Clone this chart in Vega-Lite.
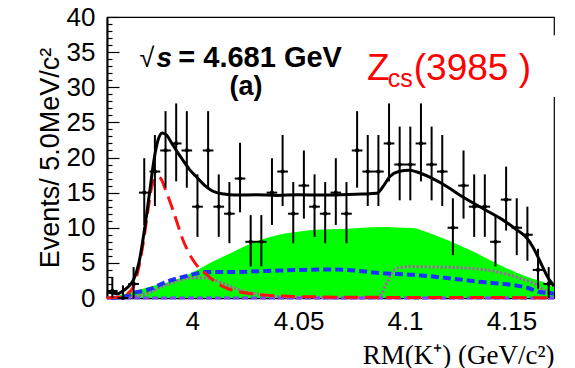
{
  "$schema": "https://vega.github.io/schema/vega-lite/v6.json",
  "width": 447,
  "height": 281,
  "autosize": {"type": "none"},
  "padding": {"left": 107, "top": 17, "right": 21, "bottom": 70},
  "background": "white",
  "config": {"view": {"stroke": "black", "strokeWidth": 1.2}, "font": "Liberation Sans"},
  "datasets": {
    "pts": [
      {"x": 3.9625, "n": 1, "lo": 0, "hi": 3.0, "x0": 3.960, "x1": 3.965},
      {"x": 3.9675, "n": 0, "lo": 0, "hi": 1.8, "x0": 3.965, "x1": 3.970},
      {"x": 3.9725, "n": 2, "lo": 0, "hi": 4.4, "x0": 3.970, "x1": 3.975},
      {"x": 3.9775, "n": 15, "lo": 10.4, "hi": 19.9, "x0": 3.975, "x1": 3.980},
      {"x": 3.9825, "n": 18, "lo": 13.1, "hi": 23.2, "x0": 3.980, "x1": 3.985},
      {"x": 3.9875, "n": 21, "lo": 15.7, "hi": 26.6, "x0": 3.985, "x1": 3.990},
      {"x": 3.9925, "n": 22, "lo": 16.6, "hi": 27.7, "x0": 3.990, "x1": 3.995},
      {"x": 3.9975, "n": 21, "lo": 15.7, "hi": 26.6, "x0": 3.995, "x1": 4.000},
      {"x": 4.0025, "n": 13, "lo": 8.7, "hi": 17.6, "x0": 4.000, "x1": 4.005},
      {"x": 4.0075, "n": 21, "lo": 15.7, "hi": 26.6, "x0": 4.005, "x1": 4.010},
      {"x": 4.0125, "n": 13, "lo": 8.7, "hi": 17.6, "x0": 4.010, "x1": 4.015},
      {"x": 4.0175, "n": 12, "lo": 7.8, "hi": 16.5, "x0": 4.015, "x1": 4.020},
      {"x": 4.0225, "n": 17, "lo": 12.2, "hi": 22.1, "x0": 4.020, "x1": 4.025},
      {"x": 4.0275, "n": 8, "lo": 4.5, "hi": 11.8, "x0": 4.025, "x1": 4.030},
      {"x": 4.0325, "n": 8, "lo": 4.5, "hi": 11.8, "x0": 4.030, "x1": 4.035},
      {"x": 4.0375, "n": 15, "lo": 10.4, "hi": 19.9, "x0": 4.035, "x1": 4.040},
      {"x": 4.0425, "n": 18, "lo": 13.1, "hi": 23.2, "x0": 4.040, "x1": 4.045},
      {"x": 4.0475, "n": 12, "lo": 7.8, "hi": 16.5, "x0": 4.045, "x1": 4.050},
      {"x": 4.0525, "n": 16, "lo": 11.3, "hi": 21.0, "x0": 4.050, "x1": 4.055},
      {"x": 4.0575, "n": 13, "lo": 8.7, "hi": 17.6, "x0": 4.055, "x1": 4.060},
      {"x": 4.0625, "n": 12, "lo": 7.8, "hi": 16.5, "x0": 4.060, "x1": 4.065},
      {"x": 4.0675, "n": 15, "lo": 10.4, "hi": 19.9, "x0": 4.065, "x1": 4.070},
      {"x": 4.0725, "n": 12, "lo": 7.8, "hi": 16.5, "x0": 4.070, "x1": 4.075},
      {"x": 4.0775, "n": 21, "lo": 15.7, "hi": 26.6, "x0": 4.075, "x1": 4.080},
      {"x": 4.0825, "n": 18, "lo": 13.1, "hi": 23.2, "x0": 4.080, "x1": 4.085},
      {"x": 4.0875, "n": 18, "lo": 13.1, "hi": 23.2, "x0": 4.085, "x1": 4.090},
      {"x": 4.0925, "n": 22, "lo": 16.6, "hi": 27.7, "x0": 4.090, "x1": 4.095},
      {"x": 4.0975, "n": 19, "lo": 13.9, "hi": 24.4, "x0": 4.095, "x1": 4.100},
      {"x": 4.1025, "n": 19, "lo": 13.9, "hi": 24.4, "x0": 4.100, "x1": 4.105},
      {"x": 4.1075, "n": 22, "lo": 16.6, "hi": 27.7, "x0": 4.105, "x1": 4.110},
      {"x": 4.1125, "n": 19, "lo": 13.9, "hi": 24.4, "x0": 4.110, "x1": 4.115},
      {"x": 4.1175, "n": 18, "lo": 13.1, "hi": 23.2, "x0": 4.115, "x1": 4.120},
      {"x": 4.1225, "n": 10, "lo": 6.1, "hi": 14.2, "x0": 4.120, "x1": 4.125},
      {"x": 4.1275, "n": 16, "lo": 11.3, "hi": 21.0, "x0": 4.125, "x1": 4.130},
      {"x": 4.1325, "n": 13, "lo": 8.7, "hi": 17.6, "x0": 4.130, "x1": 4.135},
      {"x": 4.1375, "n": 13, "lo": 8.7, "hi": 17.6, "x0": 4.135, "x1": 4.140},
      {"x": 4.1425, "n": 8, "lo": 4.5, "hi": 11.8, "x0": 4.140, "x1": 4.145},
      {"x": 4.1475, "n": 14, "lo": 9.6, "hi": 18.7, "x0": 4.145, "x1": 4.150},
      {"x": 4.1525, "n": 10, "lo": 6.1, "hi": 14.2, "x0": 4.150, "x1": 4.155},
      {"x": 4.1575, "n": 9, "lo": 5.3, "hi": 13.0, "x0": 4.155, "x1": 4.160},
      {"x": 4.1625, "n": 4, "lo": 1.3, "hi": 7.0, "x0": 4.160, "x1": 4.165},
      {"x": 4.1675, "n": 2, "lo": 0, "hi": 4.4, "x0": 4.165, "x1": 4.170}
    ],
    "total": [
      {"x": 3.960, "y": 0.9}, {"x": 3.9625, "y": 0.7}, {"x": 3.965, "y": 0.6}, {"x": 3.9675, "y": 1.0},
      {"x": 3.970, "y": 1.6}, {"x": 3.9725, "y": 2.6}, {"x": 3.975, "y": 5.0}, {"x": 3.9775, "y": 9.5},
      {"x": 3.980, "y": 15.0}, {"x": 3.982, "y": 19.5}, {"x": 3.984, "y": 22.5}, {"x": 3.986, "y": 23.5},
      {"x": 3.988, "y": 23.2}, {"x": 3.9905, "y": 22.0}, {"x": 3.993, "y": 20.8}, {"x": 3.9957, "y": 19.6},
      {"x": 3.999, "y": 18.2}, {"x": 4.0022, "y": 17.2}, {"x": 4.006, "y": 16.0}, {"x": 4.0098, "y": 15.2},
      {"x": 4.015, "y": 14.8}, {"x": 4.020, "y": 14.65}, {"x": 4.030, "y": 14.7}, {"x": 4.040, "y": 14.6},
      {"x": 4.050, "y": 14.7}, {"x": 4.060, "y": 14.65}, {"x": 4.070, "y": 14.7}, {"x": 4.080, "y": 14.8},
      {"x": 4.0868, "y": 14.9}, {"x": 4.090, "y": 16.0}, {"x": 4.0929, "y": 17.3}, {"x": 4.097, "y": 18.0},
      {"x": 4.1022, "y": 18.2}, {"x": 4.106, "y": 17.9}, {"x": 4.1116, "y": 17.2}, {"x": 4.120, "y": 15.8},
      {"x": 4.127, "y": 14.4}, {"x": 4.138, "y": 12.5}, {"x": 4.145, "y": 11.3}, {"x": 4.1525, "y": 9.7},
      {"x": 4.157, "y": 8.6}, {"x": 4.160, "y": 7.3}, {"x": 4.1647, "y": 4.4}, {"x": 4.167, "y": 3.0},
      {"x": 4.169, "y": 2.1}, {"x": 4.170, "y": 1.7}
    ],
    "signal": [
      {"x": 3.960, "y": 0.05}, {"x": 3.966, "y": 0.1}, {"x": 3.969, "y": 0.5}, {"x": 3.972, "y": 1.4},
      {"x": 3.9745, "y": 3.8}, {"x": 3.977, "y": 7.8}, {"x": 3.979, "y": 12.0}, {"x": 3.981, "y": 15.8},
      {"x": 3.9825, "y": 17.0}, {"x": 3.984, "y": 17.3}, {"x": 3.9855, "y": 16.9}, {"x": 3.987, "y": 15.8},
      {"x": 3.989, "y": 14.2}, {"x": 3.991, "y": 12.5}, {"x": 3.9935, "y": 10.2}, {"x": 3.9957, "y": 8.25},
      {"x": 3.998, "y": 6.7}, {"x": 4.0004, "y": 5.4}, {"x": 4.0035, "y": 4.2}, {"x": 4.007, "y": 3.3},
      {"x": 4.010, "y": 2.5}, {"x": 4.013, "y": 1.85}, {"x": 4.0175, "y": 1.25}, {"x": 4.0225, "y": 0.85},
      {"x": 4.028, "y": 0.6}, {"x": 4.035, "y": 0.4}, {"x": 4.045, "y": 0.25}, {"x": 4.060, "y": 0.15},
      {"x": 4.080, "y": 0.1}, {"x": 4.100, "y": 0.08}, {"x": 4.170, "y": 0.05}
    ],
    "green": [
      {"x": 3.960, "y": 0}, {"x": 3.963, "y": 0.1}, {"x": 3.966, "y": 0.4}, {"x": 3.972, "y": 0.9},
      {"x": 3.980, "y": 1.6}, {"x": 3.988, "y": 2.2}, {"x": 3.9957, "y": 3.0}, {"x": 4.002, "y": 3.9},
      {"x": 4.0084, "y": 5.0}, {"x": 4.014, "y": 5.8}, {"x": 4.019, "y": 6.5}, {"x": 4.025, "y": 7.4},
      {"x": 4.032, "y": 8.25}, {"x": 4.038, "y": 8.8}, {"x": 4.0445, "y": 9.2}, {"x": 4.0515, "y": 9.5},
      {"x": 4.0586, "y": 9.7}, {"x": 4.0647, "y": 9.8}, {"x": 4.0727, "y": 9.85}, {"x": 4.080, "y": 10.0},
      {"x": 4.088, "y": 10.1}, {"x": 4.096, "y": 10.05}, {"x": 4.1037, "y": 9.95}, {"x": 4.110, "y": 9.4},
      {"x": 4.1163, "y": 8.7}, {"x": 4.122, "y": 8.0}, {"x": 4.127, "y": 7.3}, {"x": 4.1335, "y": 6.4},
      {"x": 4.1398, "y": 5.4}, {"x": 4.146, "y": 4.5}, {"x": 4.1525, "y": 3.6}, {"x": 4.1585, "y": 2.9},
      {"x": 4.1647, "y": 2.3}, {"x": 4.1694, "y": 1.6}, {"x": 4.170, "y": 1.5}
    ],
    "blue": [
      {"x": 3.962, "y": 0.0}, {"x": 3.966, "y": 0.1}, {"x": 3.969, "y": 0.3}, {"x": 3.972, "y": 0.7},
      {"x": 3.977, "y": 1.0}, {"x": 3.9816, "y": 1.4}, {"x": 3.985, "y": 1.9}, {"x": 3.988, "y": 2.3},
      {"x": 3.9957, "y": 3.0}, {"x": 4.001, "y": 3.4}, {"x": 4.007, "y": 3.7}, {"x": 4.019, "y": 3.7},
      {"x": 4.035, "y": 3.85}, {"x": 4.0506, "y": 4.0}, {"x": 4.0647, "y": 4.05}, {"x": 4.0727, "y": 4.0},
      {"x": 4.080, "y": 3.8}, {"x": 4.088, "y": 3.55}, {"x": 4.1037, "y": 3.3}, {"x": 4.1196, "y": 2.85},
      {"x": 4.135, "y": 2.3}, {"x": 4.1506, "y": 1.85}, {"x": 4.157, "y": 1.5}, {"x": 4.1633, "y": 0.85},
      {"x": 4.168, "y": 0.7}, {"x": 4.170, "y": 0.6}
    ],
    "magenta": [
      {"x": 3.962, "y": 0}, {"x": 3.970, "y": 0.1}, {"x": 3.975, "y": 0.3}, {"x": 3.980, "y": 0.8},
      {"x": 3.985, "y": 1.5}, {"x": 3.990, "y": 2.1}, {"x": 3.995, "y": 2.6}, {"x": 4.000, "y": 2.9},
      {"x": 4.005, "y": 2.9}, {"x": 4.010, "y": 2.6}, {"x": 4.015, "y": 2.0}, {"x": 4.020, "y": 1.4},
      {"x": 4.025, "y": 0.9}, {"x": 4.030, "y": 0.6}, {"x": 4.040, "y": 0.2}, {"x": 4.050, "y": 0.08},
      {"x": 4.070, "y": 0.05}, {"x": 4.087, "y": 0.05}, {"x": 4.089, "y": 0.6}, {"x": 4.0915, "y": 2.2},
      {"x": 4.094, "y": 3.6}, {"x": 4.097, "y": 4.3}, {"x": 4.102, "y": 4.45}, {"x": 4.115, "y": 4.4},
      {"x": 4.127, "y": 4.3}, {"x": 4.135, "y": 4.1}, {"x": 4.140, "y": 3.9}, {"x": 4.145, "y": 3.6},
      {"x": 4.150, "y": 3.2}, {"x": 4.155, "y": 2.7}, {"x": 4.159, "y": 2.3}, {"x": 4.163, "y": 1.6},
      {"x": 4.168, "y": 0.6}
    ],
    "base": [{"x": 3.960, "y": 0}, {"x": 4.170, "y": 0}]
  },
  "encoding": {
    "x": {
      "field": "x", "type": "quantitative",
      "scale": {"domain": [3.96, 4.17], "nice": false, "zero": false},
      "axis": {
        "title": "RM(K⁺) (GeV/c²)",
        "values": [3.96, 3.97, 3.98, 3.99, 4.0, 4.01, 4.02, 4.03, 4.04, 4.05, 4.06, 4.07, 4.08, 4.09, 4.1, 4.11, 4.12, 4.13, 4.14, 4.15, 4.16, 4.17],
        "format": "~g",
        "labelExpr": "abs(datum.value*20 - round(datum.value*20)) < 0.01 ? datum.label : ''",
        "tickSize": {"condition": {"test": "abs(datum.value*20 - round(datum.value*20)) < 0.01", "value": -12}, "value": -6},
        "tickColor": "black", "tickWidth": 1.2,
        "domainColor": "black", "domainWidth": 1.5,
        "labelFont": "Liberation Sans", "labelFontSize": 26, "labelColor": "black",
        "labelPadding": 22, "labelFlush": false, "labelOverlap": false,
        "titleFont": "Liberation Serif", "titleFontSize": 27, "titleFontWeight": "normal",
        "titleColor": "black", "titleAnchor": "end", "titlePadding": 2,
        "grid": false
      }
    },
    "y": {
      "field": "y", "type": "quantitative",
      "scale": {"domain": [0, 40], "nice": false},
      "axis": {
        "title": "Events/ 5.0MeV/c²",
        "values": [0,1,2,3,4,5,6,7,8,9,10,11,12,13,14,15,16,17,18,19,20,21,22,23,24,25,26,27,28,29,30,31,32,33,34,35,36,37,38,39,40],
        "labelExpr": "datum.value % 5 === 0 ? datum.label : ''",
        "tickSize": {"condition": {"test": "datum.value % 5 === 0", "value": -12}, "value": -5},
        "tickColor": "black", "tickWidth": 1.2,
        "domainColor": "black", "domainWidth": 2,
        "labelFont": "Liberation Sans", "labelFontSize": 26, "labelColor": "black",
        "labelPadding": 24, "labelFlush": false, "labelOverlap": false,
        "titleFont": "Liberation Sans", "titleFontSize": 27, "titleFontWeight": "normal",
        "titleColor": "black", "titlePadding": 2,
        "grid": false
      }
    }
  },
  "layer": [
    {
      "data": {"name": "green"},
      "mark": {"type": "area", "color": "#00ff00", "interpolate": "monotone"}
    },
    {
      "data": {"name": "magenta"},
      "mark": {"type": "line", "color": "#c050c0", "strokeWidth": 3, "strokeDash": [2, 2], "interpolate": "monotone"}
    },
    {
      "data": {"name": "base"},
      "mark": {"type": "line", "color": "#8040ff", "strokeWidth": 3, "strokeDash": [6, 3]}
    },
    {
      "data": {"name": "blue"},
      "mark": {"type": "line", "color": "#1f2fff", "strokeWidth": 4, "strokeDash": [8, 4], "interpolate": "monotone"}
    },
    {
      "data": {"name": "signal"},
      "mark": {"type": "line", "color": "#ff1010", "strokeWidth": 3, "strokeDash": [14, 7], "interpolate": "monotone"}
    },
    {
      "data": {"name": "pts"},
      "mark": {"type": "rule", "color": "black", "strokeWidth": 2},
      "encoding": {"y": {"field": "lo", "type": "quantitative"}, "y2": {"field": "hi"}}
    },
    {
      "data": {"name": "pts"},
      "mark": {"type": "rule", "color": "black", "strokeWidth": 2},
      "encoding": {"x": {"field": "x0", "type": "quantitative"}, "x2": {"field": "x1"}, "y": {"field": "n", "type": "quantitative"}}
    },
    {
      "data": {"name": "pts"},
      "mark": {"type": "point", "filled": true, "color": "black", "size": 18, "opacity": 1},
      "encoding": {"y": {"field": "n", "type": "quantitative"}}
    },
    {
      "data": {"name": "total"},
      "mark": {"type": "line", "color": "black", "strokeWidth": 3, "interpolate": "monotone"}
    },
    {
      "data": {"values": [{"x": 3.9753, "y": 32.9, "t": "√"}]},
      "mark": {"type": "text", "font": "Liberation Sans", "fontSize": 27, "align": "left", "baseline": "alphabetic", "color": "black"},
      "encoding": {"text": {"field": "t"}}
    },
    {
      "data": {"values": [{"x": 3.9833, "y": 32.9, "t": "s"}]},
      "mark": {"type": "text", "font": "Liberation Sans", "fontSize": 28, "fontWeight": "bold", "fontStyle": "italic", "align": "left", "baseline": "alphabetic", "color": "black"},
      "encoding": {"text": {"field": "t"}}
    },
    {
      "data": {"values": [{"x": 3.9935, "y": 32.9, "t": "= 4.681 GeV"}]},
      "mark": {"type": "text", "font": "Liberation Sans", "fontSize": 29, "fontWeight": "bold", "align": "left", "baseline": "alphabetic", "color": "black"},
      "encoding": {"text": {"field": "t"}}
    },
    {
      "data": {"values": [{"x": 4.0253, "y": 28.9, "t": "(a)"}]},
      "mark": {"type": "text", "font": "Liberation Sans", "fontSize": 27, "fontWeight": "bold", "align": "center", "baseline": "alphabetic", "color": "black"},
      "encoding": {"text": {"field": "t"}}
    },
    {
      "data": {"values": [{"x": 4.0717, "xe": 4.174, "y": 28.6, "ye": 37.4}]},
      "mark": {"type": "rect", "color": "white", "opacity": 1},
      "encoding": {"x2": {"field": "xe"}, "y2": {"field": "ye"}}
    },
    {
      "data": {"values": [{"x": 4.0821, "y": 31.0, "t": "Z"}]},
      "mark": {"type": "text", "font": "Liberation Sans", "fontSize": 37, "align": "left", "baseline": "alphabetic", "color": "#ff0000"},
      "encoding": {"text": {"field": "t"}}
    },
    {
      "data": {"values": [{"x": 4.0919, "y": 29.97, "t": "cs"}]},
      "mark": {"type": "text", "font": "Liberation Sans", "fontSize": 25, "align": "left", "baseline": "alphabetic", "color": "#ff0000"},
      "encoding": {"text": {"field": "t"}}
    },
    {
      "data": {"values": [{"x": 4.1041, "y": 31.0, "t": "(3985 )"}]},
      "mark": {"type": "text", "font": "Liberation Sans", "fontSize": 37, "align": "left", "baseline": "alphabetic", "color": "#ff0000"},
      "encoding": {"text": {"field": "t"}}
    }
  ]
}
